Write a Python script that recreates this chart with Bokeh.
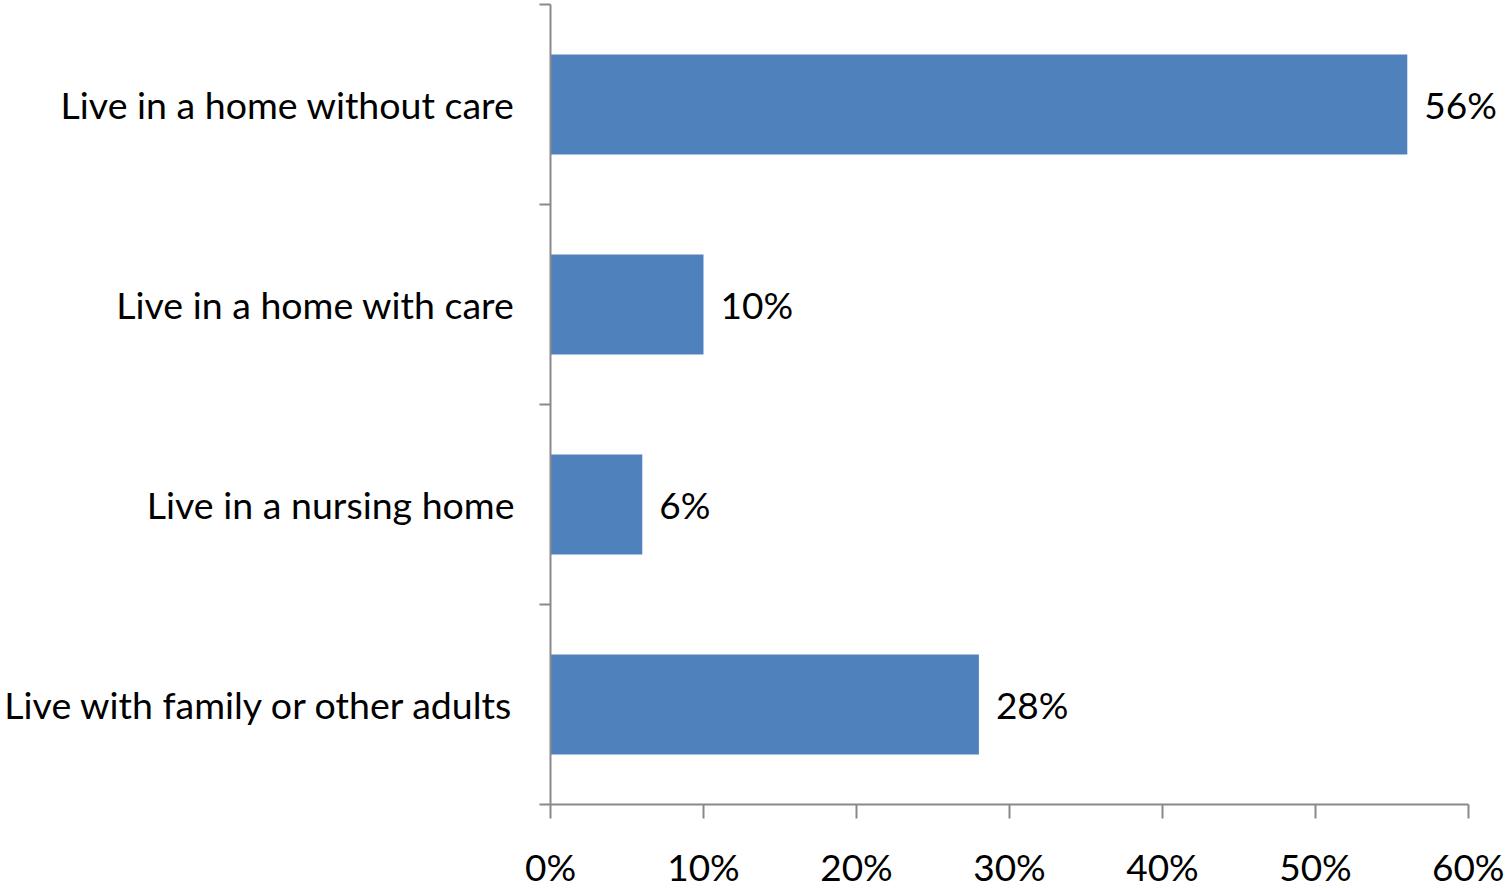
from bokeh.plotting import figure
from bokeh.models import ColumnDataSource, FixedTicker, Range1d, LabelSet
from bokeh.core.properties import value
from bokeh.embed import file_html
from bokeh.resources import INLINE

# Data (bottom to top)
categories = ["Live with family or other adults", "Live in a nursing home",
              "Live in a home with care", "Live in a home without care"]
values = [28, 6, 10, 56]
value_labels = ["28%", "6%", "10%", "56%"]
x_ticks = [0, 10, 20, 30, 40, 50, 60]
x_tick_labels = ["0%", "10%", "20%", "30%", "40%", "50%", "60%"]

positions = [i + 0.5 for i in range(len(categories))]
boundaries = [float(i) for i in range(len(categories) + 1)]

FONT = "Lato"
AXIS_COLOR = "#898989"
BAR_COLOR = "#4F81BD"

FRAME_W = 948
AXIS_W = 918  # pixels for 0..60
x_end = 60 * FRAME_W / AXIS_W

src = ColumnDataSource(dict(y=positions, v=values, lab=value_labels))

p = figure(output_backend="svg", toolbar_location=None,
           frame_width=FRAME_W, frame_height=800,
           min_border_left=550, min_border_right=6,
           min_border_top=4, min_border_bottom=84,
           x_range=Range1d(0, x_end), y_range=Range1d(0, len(categories)))
p.outline_line_color = None
p.grid.visible = False
p.background_fill_color = "white"

p.hbar(y="y", left=0, right="v", height=0.5, source=src,
       fill_color=BAR_COLOR, line_color=None)

labels = LabelSet(x="v", y="y", text="lab", source=src, x_offset=17,
                  text_baseline="middle", text_align="left",
                  text_font=value(FONT), text_font_size=value("37px"),
                  text_color="black")
p.add_layout(labels)

# x axis
xa = p.xaxis[0]
xa.bounds = (x_ticks[0], x_ticks[-1])
xa.ticker = FixedTicker(ticks=x_ticks, minor_ticks=[])
xa.major_label_overrides = {t: l for t, l in zip(x_ticks, x_tick_labels)}
xa.axis_line_color = AXIS_COLOR
xa.axis_line_width = 2
xa.major_tick_line_color = AXIS_COLOR
xa.major_tick_line_width = 2
xa.major_tick_in = 0
xa.major_tick_out = 14
xa.major_label_standoff = 25
xa.major_label_text_font = FONT
xa.major_label_text_font_size = "37px"
xa.major_label_text_color = "black"

# y axis
ya = p.yaxis[0]
ya.ticker = FixedTicker(ticks=positions, minor_ticks=boundaries)
ya.major_label_overrides = {t: c for t, c in zip(positions, categories)}
ya.axis_line_color = AXIS_COLOR
ya.axis_line_width = 2
ya.major_tick_line_color = None
ya.major_tick_in = 0
ya.major_tick_out = 0
ya.minor_tick_line_color = AXIS_COLOR
ya.minor_tick_line_width = 2
ya.minor_tick_in = 0
ya.minor_tick_out = 11
ya.major_label_standoff = 25
ya.major_label_text_font = FONT
ya.major_label_text_font_size = "37.5px"
ya.major_label_text_color = "black"

open("out.html", "w").write(file_html(p, INLINE))
